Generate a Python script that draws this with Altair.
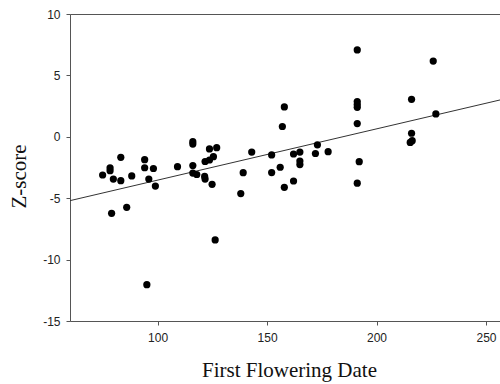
import altair as alt
import pandas as pd

flower_date = [74.9, 78.3, 78.3, 79.0, 79.8, 83.2, 83.2, 85.9, 88.2, 94.1,
               94.1, 95.1, 96.0, 98.1, 99.0, 109.1, 116.1, 116.1, 116.1, 116.1,
               117.9, 121.5, 121.7, 124.9, 121.7, 123.7, 125.5, 123.7, 127.0, 126.3,
               138.0, 139.1, 143.0, 152.1, 152.1, 156.0, 157.9, 162.1, 157.0, 157.9,
               162.1, 165.0, 165.0, 165.0, 172.1, 173.0, 177.9, 191.2, 191.2, 191.2,
               191.2, 191.2, 192.1, 191.2, 216.0, 216.0, 215.4, 216.3, 227.1, 225.9]
z_score = [-3.11, -2.52, -2.76, -6.23, -3.44, -3.57, -1.67, -5.74, -3.19, -1.86,
           -2.52, -12.04, -3.44, -2.58, -4.01, -2.43, -0.40, -0.59, -2.34, -2.95,
           -3.07, -3.23, -3.44, -3.87, -2.01, -1.89, -1.62, -0.99, -0.89, -8.40,
           -4.62, -2.92, -1.24, -1.48, -2.91, -2.48, -4.11, -3.60, 0.84, 2.43,
           -1.40, -1.24, -1.97, -2.26, -1.36, -0.65, -1.21, 7.07, 2.87, 2.63,
           2.40, 1.08, -2.03, -3.78, 3.05, 0.29, -0.46, -0.32, 1.86, 6.17]

fit_x = [60, 256.4]
fit_y = [-5.2, 3.0]

x_ticks = [100, 150, 200, 250]
y_ticks = [-15, -10, -5, 0, 5, 10]

pts = pd.DataFrame({"x": flower_date, "y": z_score})
fit = pd.DataFrame({"x": fit_x, "y": fit_y})

xscale = alt.Scale(domain=[60, 256.4], nice=False, zero=False)
yscale = alt.Scale(domain=[-15, 10], nice=False, zero=False)

axis_common = dict(
    grid=False, domainColor="#555555", domainWidth=1, tickColor="#555555",
    tickSize=4, labelFont="Liberation Sans", labelFontSize=12, labelColor="#222222",
    titleFont="Liberation Serif", titleFontSize=21, titleFontWeight="normal",
    titleColor="#111111", labelExpr="'' + datum.value",
)

points = alt.Chart(pts).mark_circle(size=52, color="black", opacity=1).encode(
    x=alt.X("x:Q", scale=xscale,
            axis=alt.Axis(title="First Flowering Date", values=x_ticks, labelPadding=7,
                          titleX=219, titleY=55, titleBaseline="alphabetic",
                          titleAlign="center", **axis_common)),
    y=alt.Y("y:Q", scale=yscale,
            axis=alt.Axis(title="Z-score", values=y_ticks, labelPadding=6,
                          titleX=-45, titleY=162, titleBaseline="alphabetic",
                          titleAlign="center", titleAngle=270, **axis_common)),
)

line = alt.Chart(fit).mark_line(color="#333333", strokeWidth=1).encode(
    x=alt.X("x:Q", scale=xscale,
            axis=alt.Axis(orient="top", labels=False, ticks=False, title=None,
                          grid=False, domainColor="#555555", domainWidth=1)),
    y=alt.Y("y:Q", scale=yscale),
)

chart = alt.layer(line, points).resolve_axis(x="independent").properties(
    width=430, height=307,
    autosize=alt.AutoSizeParams(type="none"),
    padding={"left": 70, "top": 14, "right": 0, "bottom": 63},
).configure_view(stroke=None).configure(background="white")

chart.save("out.html", embed_options={"renderer": "svg", "actions": False})
